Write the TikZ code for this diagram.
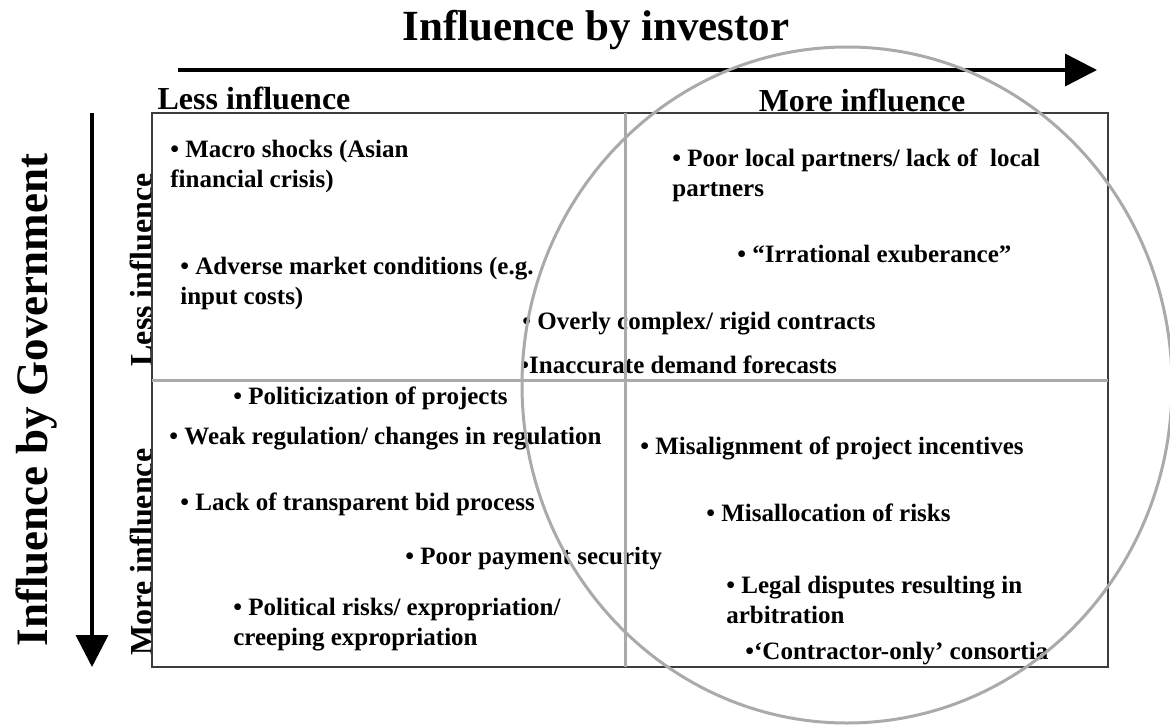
\documentclass[tikz,border=0pt]{standalone}
\usepackage{fontspec}
\setmainfont{Liberation Serif}
\usetikzlibrary{arrows.meta}

\definecolor{ringgray}{RGB}{170,170,172}
\definecolor{boxline}{RGB}{60,60,60}

\tikzset{every picture/.style={line width=0.75pt}}
\tikzset{
  item/.style={anchor=base west,inner sep=0pt,align=left,font=\fontsize{25}{30}\selectfont\bfseries},
  header/.style={inner sep=0pt,font=\fontsize{32}{36}\selectfont\bfseries},
  axistitle/.style={inner sep=0pt,font=\fontsize{43}{48}\selectfont\bfseries},
  axisarrow/.style={line width=3.5pt,-{Triangle[length=32pt,width=32pt]}},
  divider/.style={draw=ringgray,line width=3pt}
}

\begin{document}
\begin{tikzpicture}[x=1pt,y=1pt,yscale=-1,xscale=1]
\useasboundingbox (0,0) rectangle (1170,726);

% Titles
\draw (596,30) node (invtitle) [axistitle] {Influence by investor};
\draw (37,400) node (govtitle) [axistitle,rotate=90,font=\fontsize{45}{50}\selectfont\bfseries] {Influence by Government};

% Arrows
\coordinate (invstart) at (178,70);
\coordinate (invend) at (1097,70);
\coordinate (govstart) at (92,113);
\coordinate (govend) at (92,667);
\draw [axisarrow] (invstart) -- (invend);
\draw [axisarrow] (govstart) -- (govend);

% Column and row headers
\draw (254,98) node (colless) [header] {Less influence};
\draw (862,100) node (colmore) [header] {More influence};
\draw (141,270) node (rowless) [header,rotate=90] {Less influence};
\draw (141,552) node (rowmore) [header,rotate=90] {More influence};

% Text Node (multi-line items sit on the baseline of their last line)
\draw (170,187) node (macro) [item] {• Macro shocks (Asian\\financial crisis)};
% Text Node
\draw (180,304) node (adverse) [item] {• Adverse market conditions (e.g.\\input costs)};
% Text Node
\draw (522,329) node (complex) [item] {• Overly complex/ rigid contracts};
% Text Node
\draw (520,373) node (forecast) [item] {•Inaccurate demand forecasts};
% Text Node
\draw (672,196) node (partners) [item] {• Poor local partners/ lack of~ local\\partners};
% Text Node
\draw (737,262) node (exuber) [item] {• “Irrational exuberance”};
% Text Node
\draw (233,404) node (politic) [item] {• Politicization of projects};
% Text Node
\draw (169,444) node (regul) [item] {• Weak regulation/ changes in regulation};
% Text Node
\draw (180,510) node (bid) [item] {• Lack of transparent bid process};
% Text Node
\draw (405,564) node (payment) [item] {• Poor payment security};
% Text Node
\draw (233,645) node (expro) [item] {• Political risks/ expropriation/\\creeping expropriation};
% Text Node
\draw (640,454) node (incent) [item] {• Misalignment of project incentives};
% Text Node
\draw (706,521) node (misalloc) [item] {• Misallocation of risks};
% Text Node
\draw (726,623) node (legal) [item] {• Legal disputes resulting in\\arbitration};
% Text Node
\draw (745,659) node (contract) [item] {•‘Contractor-only’ consortia};

% Frame and dividers
\draw [boxline,line width=1.5pt] (152,113) rectangle (1108,667);
\draw [divider] (625,113) -- (625,667);
\draw [divider] (152,380) -- (1108,380);

%Shape: Ellipse
\draw [draw=ringgray,line width=3pt] (847,385) ellipse [x radius=325,y radius=338];

\end{tikzpicture}
\end{document}
